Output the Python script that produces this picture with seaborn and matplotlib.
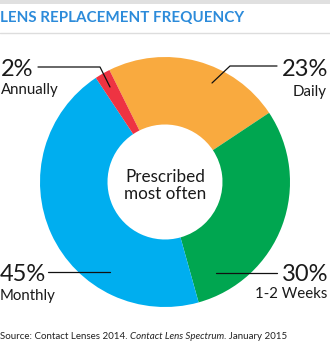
import matplotlib
matplotlib.use("Agg")
import matplotlib.pyplot as plt
import seaborn as sns

sns.set_theme(style="white")
plt.rcParams['font.family'] = ['Lato', 'DejaVu Sans']

# ---- data ----
categories = ["Daily", "1-2 Weeks", "Monthly", "Annually"]
values = [23, 30, 45, 2]
pct_labels = ["23%", "30%", "45%", "2%"]
colors = ["#F9AA3F", "#00A650", "#00AEEF", "#EE3342"]

title = "LENS REPLACEMENT FREQUENCY"
center_text = "Prescribed\nmost often"

W, H = 330, 348
fig = plt.figure(figsize=(W / 100, H / 100), dpi=100)

# pie axes (center ~ (165,182) px, radius 125 px)
cx, cy, R = 165, 182, 125
ax = fig.add_axes([(cx - R) / W, (H - cy - R) / H, 2 * R / W, 2 * R / H])
ax.pie(values, colors=colors, startangle=116.4, counterclock=False,
       radius=1.0, wedgeprops=dict(width=0.54, linewidth=0))
ax.set_xlim(-1, 1)
ax.set_ylim(-1, 1)
ax.set_aspect("equal")
ax.axis("off")
ax.text(0, -0.03, center_text, ha="center", va="center", fontsize=12.3,
        color="#1a1a1a", linespacing=1.05)

# overlay axes in pixel coordinates
ov = fig.add_axes([0, 0, 1, 1], facecolor="none")
ov.set_xlim(0, W)
ov.set_ylim(H, 0)
ov.axis("off")

# top gray bar and separator
ov.fill_between([0, W], 0, 3.5, color="#E0E0E0", lw=0)
ov.plot([0, W], [33, 33], color="#DDDDDD", lw=1)
ov.text(0, 18.5, title, ha="left", va="center", fontsize=10.9,
        fontweight="bold", color="#2C8BDA")

# leader lines
lc = "#111111"
ov.plot([38, 100, 110], [67, 67, 87], color=lc, lw=0.9)      # Annually
ov.plot([212, 230, 277], [83, 66, 66], color=lc, lw=0.9)     # Daily
ov.plot([48, 110], [272, 272], color=lc, lw=0.9)             # Monthly
ov.plot([216, 277], [273, 273], color=lc, lw=0.9)            # 1-2 Weeks

big = 17
small = 10.8
tc = "#1a1a1a"
# Annually
ov.text(1, 76, pct_labels[3], ha="left", va="baseline", fontsize=big, color=tc)
ov.text(1, 94, categories[3], ha="left", va="baseline", fontsize=small, color=tc)
# Daily
ov.text(328, 75.5, pct_labels[0], ha="right", va="baseline", fontsize=big, color=tc)
ov.text(327, 96, categories[0], ha="right", va="baseline", fontsize=small, color=tc)
# Monthly
ov.text(0, 281, pct_labels[2], ha="left", va="baseline", fontsize=big, color=tc)
ov.text(0, 300, categories[2], ha="left", va="baseline", fontsize=small, color=tc)
# 1-2 Weeks
ov.text(328, 281, pct_labels[1], ha="right", va="baseline", fontsize=big, color=tc)
ov.text(327, 298.5, categories[1], ha="right", va="baseline", fontsize=small, color=tc)

# source line
fs_src = 7.0
ov.text(0, 339, "Source: Contact Lenses 2014. ", ha="left", va="baseline",
        fontsize=fs_src, color="#222222")
t1 = ov.texts[-1]
fig.canvas.draw()
r = fig.canvas.get_renderer()
bb = t1.get_window_extent(r)
t2 = fig.text(bb.x1 / fig.dpi / fig.get_figwidth(), (H - 339) / H, "Contact Lens Spectrum",
              ha="left", va="baseline", fontsize=fs_src, style="italic", color="#222222")
bb2 = t2.get_window_extent(r)
fig.text(bb2.x1 / fig.dpi / fig.get_figwidth(), (H - 339) / H, ". January 2015",
         ha="left", va="baseline", fontsize=fs_src, color="#222222")

fig.savefig("out.png", dpi=100, facecolor="white")
